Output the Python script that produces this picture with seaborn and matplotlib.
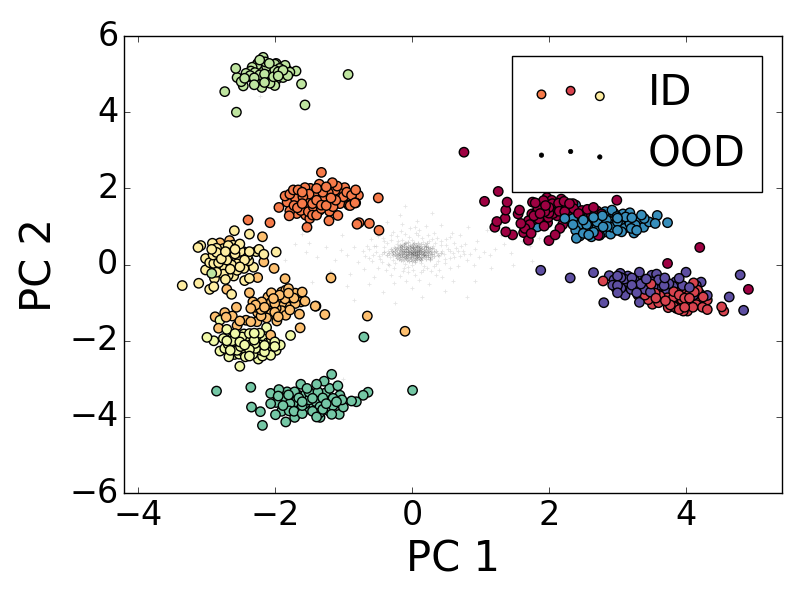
import numpy as np
import pandas as pd
import matplotlib
matplotlib.use("Agg")
import matplotlib.pyplot as plt
import seaborn as sns

# points, one list per class, (PC 1, PC 2)
crimson = [(0.76,2.95),(1.06,1.66),(1.26,1.92),(1.39,1.64),(1.37,1.43),(1.57,1.43),(1.55,1.33),(1.36,1.21),(1.24,1.13),
           (1.21,0.98),(1.37,0.86),(1.47,0.78),(1.59,1.08),(1.63,0.84),(1.7,0.64),(1.68,0.9),(1.75,1.33),(1.76,1.64),
           (1.8,1.62),(1.97,1.76),(1.89,1.61),(2.04,1.69),(2.22,1.66),(2.14,1.61),(2.04,1.47),(1.94,1.39),(1.87,1.34),
           (1.99,1.24),(1.77,1.17),(1.93,1.01),(2.16,0.95),(2.09,0.78),(2.0,0.63),(2.36,1.47),(2.43,1.34),(2.23,1.39),
           (2.56,1.45),(2.7,1.41),(2.77,1.33),(2.55,1.1),(2.99,1.69),(2.72,0.77),(2.45,0.95),(2.06,1.34),(1.84,1.47),
           (4.2,0.45),(3.73,0.03),(4.91,-0.65),
           (1.95,1.55),(2.1,1.5),(2.0,1.35),(1.9,1.25),(2.15,1.4),(1.85,1.2),(2.25,1.5),(2.3,1.6),(2.05,1.6),(1.82,1.38),
           (1.72,1.05),(1.65,0.95),(1.78,1.28),(2.12,1.28),(1.98,1.1),(2.28,1.28),(2.48,1.42),(2.62,1.3),(1.92,1.68),
           (2.18,1.72),(2.0,1.5),(2.35,1.6),(1.74,0.82),(2.2,1.05),(2.65,1.5),(1.7,1.15)]
red = [(2.79,-0.43),(3.49,-0.51),(3.65,-0.69),(3.56,-0.88),(3.51,-1.04),(3.73,-0.87),(3.77,-1.06),(3.74,-1.13),
       (3.93,-0.64),(3.94,-0.92),(4.04,-0.8),(4.11,-0.48),(4.17,-0.67),(4.13,-0.94),(4.31,-0.93),(4.24,-1.12),
       (4.31,-1.18),(4.52,-1.11),(4.55,-1.22),(4.01,-1.15),(3.94,-1.15),(4.06,-1.09),(3.86,-0.93),(3.82,-0.85),
       (3.86,-1.15),(3.4,-0.8),(3.3,-0.8),(3.99,-1.02),(4.2,-0.98),(3.82,-0.71),
       (3.62,-0.82),(3.7,-0.95),(3.8,-1.0),(3.9,-0.8),(3.98,-0.88),(4.08,-0.95),(4.15,-1.05),(3.92,-1.05),(4.02,-1.22),
       (3.9,-1.18),(4.1,-1.12),(4.0,-0.7),(3.72,-0.75),(3.55,-0.75),(4.25,-0.85),(4.02,-1.05),(3.96,-1.22),(4.12,-0.72),
       (3.82,-1.1),(3.6,-1.0),(3.98,-1.12),(4.05,-0.88),(3.45,-0.92),(3.88,-0.72)]
orange = [(-1.32,2.42),(-1.73,1.96),(-1.56,2.02),(-1.94,1.5),(-1.82,1.64),(-1.78,1.41),(-1.67,1.49),(-1.79,1.28),
          (-1.68,1.34),(-2.39,1.17),(-2.07,1.1),(-1.49,1.21),(-1.39,1.3),(-1.21,1.15),(-1.08,1.29),(-1.53,0.98),
          (-0.77,1.1),(-0.62,1.08),(-0.49,1.75),(-0.78,1.82),(-0.82,1.62),(-0.92,1.56),(-0.82,1.96),(-0.98,2.02),
          (-1.09,2.06),(-1.16,2.15),(-1.35,2.11),(-1.42,1.89),(-1.22,1.89),(-1.11,1.69),(-1.43,1.49),(-1.63,1.65),
          (-1.5,1.71),(-1.39,1.69),(-1.22,1.65),(-1.29,1.78),(-1.05,1.87),(-1.59,1.78),(-1.68,1.87),(-1.15,1.52),
          (-1.32,1.47),(-1.51,1.39),(-1.39,2.0),(-1.25,2.04),(-1.66,1.96),(-0.48,0.9),(-0.8,1.06),(-1.44,1.52),
          (-1.32,1.56),(-0.9,1.55),(-0.83,1.62),
          (-1.7,1.75),(-1.6,1.6),(-1.55,1.5),(-1.45,1.6),(-1.5,1.85),(-1.4,1.82),(-1.3,1.9),(-1.35,1.65),(-1.25,1.55),
          (-1.18,1.75),(-1.12,1.95),(-1.2,1.4),(-1.05,1.6),(-1.0,1.78),(-0.95,1.9),(-1.45,1.3),(-1.55,1.3),(-1.72,1.55),
          (-1.85,1.8),(-1.78,1.85),(-1.28,1.7),(-0.88,1.82),(-1.62,1.42),(-1.35,1.42),(-1.48,2.0),(-1.6,1.9)]
light_orange = [(-2.18,0.73),(-2.66,0.63),(-2.8,0.57),(-2.16,0.07),(-2.01,-0.1),(-2.25,-0.34),(-1.85,-0.37),(-2.7,-0.65),
                (-2.37,-0.74),(-2.56,-1.12),(-2.73,-1.26),(-2.87,-1.37),(-2.71,-1.38),(-2.82,-1.67),(-2.51,-1.48),
                (-2.42,-1.46),(-2.26,-1.5),(-2.06,-1.85),(-1.63,-1.66),(-1.64,-1.3),(-1.78,-1.19),(-1.97,-1.48),
                (-1.84,-0.67),(-1.8,-0.63),(-2.05,-0.74),(-1.93,-0.8),(-2.19,-0.98),(-2.32,-0.98),(-2.28,-1.06),
                (-2.0,-1.02),(-1.6,-0.72),(-1.62,-0.98),(-1.56,-0.96),(-1.41,-1.09),(-1.27,-1.31),(-1.78,-0.84),
                (-1.9,-1.02),(-2.12,-1.26),(-2.25,-1.26),(-2.05,-0.98),(-1.9,-1.21),(-2.15,-1.12),(-2.27,-1.12),
                (-1.95,-1.37),(-1.84,-1.33),(-2.02,-0.89),(-1.18,-0.35),(-0.65,-1.35),(-0.1,-1.75),(-1.4,-1.09),
                (-2.1,-0.85),(-1.98,-0.92),(-1.85,-0.9),(-1.72,-0.88),(-1.7,-1.02),(-1.82,-1.1),(-1.98,-1.15),(-2.1,-1.05),
                (-2.2,-1.35),(-2.05,-1.28),(-1.8,-0.75),(-2.12,-1.4),(-1.9,-0.72),(-1.7,-0.75),(-2.0,-1.25),(-2.2,-1.18),
                (-2.35,-1.15),(-2.35,-1.5),(-2.55,-1.6),(-2.62,-1.35)]
yellow = [(-2.59,0.89),(-2.37,0.8),(-3.12,0.45),(-3.08,0.5),(-2.91,0.56),(-2.61,0.51),(-2.51,0.54),(-2.74,0.29),
          (-2.58,0.28),(-2.46,0.34),(-2.37,0.34),(-2.27,0.34),(-2.23,0.4),(-2.16,0.27),(-1.98,0.33),(-3.01,0.16),
          (-2.9,0.25),(-2.89,0.03),(-2.73,0.03),(-2.55,0.1),(-2.63,-0.01),(-2.44,0.12),(-2.31,-0.07),(-3.01,-0.14),
          (-2.88,-0.36),(-2.8,-0.14),(-2.59,-0.21),(-2.72,-0.39),(-2.44,-0.42),(-2.37,-0.36),(-3.35,-0.55),
          (-3.11,-0.49),(-2.95,-0.65),(-2.89,-0.58),(-2.63,-0.78),(-2.8,0.21),(-2.66,0.38),(-2.61,0.16),(-2.85,0.43),
          (-2.73,-0.1),(-2.51,-0.06),(-2.56,0.43),(-2.68,-0.28),
          (-2.85,0.32),(-2.75,0.42),(-2.68,0.5),(-2.7,0.12),(-2.62,0.32),(-2.52,0.22),(-2.45,0.2),(-2.55,-0.15),(-2.45,-0.1),
          (-2.65,-0.12),(-2.82,0.05),(-2.95,0.05),(-2.85,-0.2),(-2.75,-0.25),(-2.58,0.4),(-2.5,0.35),(-2.38,0.1),(-2.4,0.22),
          (-2.66,0.08),(-2.78,0.15),(-2.72,0.34),(-2.6,-0.3),(-2.55,0.02),(-2.92,0.4)]
pale_yellow = [(-2.99,-1.91),(-2.89,-2.0),(-2.8,-2.27),(-2.67,-2.42),(-2.51,-2.67),(-2.24,-2.48),(-2.06,-2.38),
               (-1.92,-2.11),(-1.77,-1.86),(-2.0,-2.03),(-2.12,-1.65),(-2.45,-1.82),(-2.61,-1.91),(-2.75,-1.94),
               (-2.68,-2.09),(-2.6,-2.14),(-2.59,-2.36),(-2.46,-2.29),(-2.37,-2.23),(-2.37,-2.4),(-2.27,-1.88),
               (-2.17,-1.94),(-2.12,-2.2),(-2.15,-2.29),(-2.29,-2.07),(-2.51,-2.03),(-2.44,-2.11),(-2.73,-2.2),
               (-2.58,-1.81),(-2.37,-1.81),(-2.2,-2.11),(-2.05,-2.29),(-2.8,-1.46),(-2.7,-1.7),
               (-2.55,-2.0),(-2.4,-1.95),(-2.3,-1.98),(-2.5,-2.15),(-2.42,-2.25),(-2.28,-2.2),(-2.2,-2.25),(-2.1,-2.05),
               (-2.0,-2.15),(-2.32,-2.35),(-2.52,-2.35),(-2.65,-2.25),(-2.7,-2.0),(-2.35,-2.1),(-2.48,-1.9),(-2.18,-2.4),
               (-2.62,-2.0),(-2.05,-1.95),(-2.3,-1.8),(-1.98,-2.25),(-2.43,-2.42),(-2.55,-2.25),(-2.22,-1.8),(-2.15,-2.12)]
light_green = [(-2.57,5.15),(-2.73,4.54),(-2.56,4.0),(-1.56,4.19),(-1.61,4.74),(-0.93,4.99),(-1.69,5.08),(-1.82,5.11),
               (-1.85,5.23),(-1.98,5.28),(-2.0,5.26),(-2.17,5.44),(-2.22,5.37),(-2.14,5.32),(-2.26,5.24),(-2.33,5.18),
               (-2.29,5.04),(-2.36,4.96),(-2.44,4.89),(-2.55,4.91),(-2.49,4.8),(-2.46,4.69),(-2.28,4.8),(-2.19,4.65),
               (-2.0,4.7),(-1.88,4.91),(-1.81,4.96),(-2.02,4.93),(-2.11,5.09),(-1.95,5.06),(-1.93,5.15),(-2.1,4.86),
               (-2.07,4.76),(-2.22,4.98),(-2.39,4.93),(-2.17,5.15),(-2.05,5.2),(-1.9,5.02),(-2.24,5.11),(-1.98,4.85),
               (-2.92,-0.23),
               (-2.15,5.0),(-2.05,5.05),(-2.12,5.2),(-2.3,4.9),(-2.2,4.88),(-2.0,5.1),(-1.88,5.1),(-2.03,4.85),(-2.35,5.08),
               (-1.95,4.95),(-2.15,4.78),(-2.25,5.28),(-2.08,5.28),(-1.78,5.05),(-2.42,5.02),(-2.3,4.72)]
teal = [(-2.85,-3.32),(-2.35,-3.22),(0.01,-3.3),(-1.17,-2.88),(-1.28,-3.06),(-1.39,-3.14),(-1.08,-3.18),(-0.64,-3.35),
        (-0.71,-3.43),(-0.81,-3.6),(-0.88,-3.58),(-1.0,-3.74),(-1.05,-3.43),(-1.15,-3.51),(-1.06,-3.93),(-1.17,-3.93),
        (-1.34,-4.01),(-1.39,-4.0),(-2.34,-3.74),(-2.21,-3.86),(-2.18,-4.22),(-1.99,-3.94),(-1.84,-4.13),(-1.71,-4.01),
        (-1.6,-3.91),(-1.79,-3.84),(-2.06,-3.65),(-2.06,-3.38),(-1.94,-3.28),(-1.98,-3.62),(-1.84,-3.5),(-1.76,-3.5),
        (-1.65,-3.5),(-1.62,-3.14),(-1.53,-3.25),(-1.71,-3.34),(-1.82,-3.34),(-1.37,-3.34),(-1.26,-3.37),(-1.47,-3.71),
        (-1.34,-3.73),(-1.21,-3.84),(-1.56,-3.65),(-1.72,-3.85),(-1.45,-3.51),(-1.78,-3.65),(-0.7,-1.9),
        (-1.9,-3.5),(-1.88,-3.7),(-1.7,-3.6),(-1.6,-3.7),(-1.55,-3.4),(-1.5,-3.55),(-1.4,-3.6),(-1.3,-3.5),(-1.25,-3.65),
        (-1.15,-3.7),(-1.1,-3.6),(-1.45,-3.85),(-1.35,-3.9),(-1.6,-3.6),(-1.75,-3.75),(-1.9,-3.85),(-1.95,-3.45),
        (-1.68,-3.4),(-1.2,-3.25),(-1.02,-3.55),(-1.5,-3.35),(-1.3,-3.8),(-1.8,-3.42),(-1.55,-3.8)]
blue = [(3.73,1.1),(3.58,1.29),(3.46,1.12),(3.39,1.21),(3.55,1.08),(3.21,1.23),(3.18,1.36),(3.08,1.33),(2.92,1.43),
        (2.99,1.26),(2.82,1.39),(2.65,1.24),(2.79,0.99),(2.92,0.98),(3.06,0.86),(3.24,0.83),(3.26,1.04),(3.38,0.98),
        (2.62,0.73),(2.5,0.82),(2.39,0.9),(2.4,0.69),(2.23,1.21),(2.17,1.34),(2.39,1.56),(1.76,1.06),(1.83,0.99),
        (2.35,1.21),(2.55,0.9),(2.7,0.98),(3.08,1.04),(3.16,1.17),(2.84,1.17),(2.5,1.17),(2.6,1.39),(2.74,0.77),
        (2.96,0.9),(2.7,1.12),
        (2.55,1.05),(2.65,0.85),(2.8,0.85),(2.9,1.05),(3.0,1.12),(3.1,0.95),(3.2,0.95),(3.12,1.25),(2.95,1.35),(2.78,1.28),
        (2.6,0.95),(2.45,1.05),(2.52,1.3),(2.85,1.0),(2.68,1.3),(3.3,1.15),(3.0,0.9),(2.45,0.75),(2.58,0.78),(2.9,0.8),
        (3.18,1.08),(2.35,1.05),(2.75,1.05),(3.0,1.22),(3.35,1.3),(3.28,0.9)]
purple = [(1.88,-0.15),(2.31,-0.35),(2.65,-0.21),(2.8,-1.0),(2.88,-0.29),(2.93,-0.54),(3.0,-0.3),(3.05,-0.34),(3.0,-0.55),
          (3.0,-0.74),(3.11,-0.69),(3.11,-0.8),(3.21,-0.35),(3.21,-0.54),(3.32,-0.2),(3.34,-0.51),(3.28,-0.74),(3.32,-0.99),
          (3.5,-0.28),(3.57,-0.25),(3.69,-0.35),(3.43,-0.85),(3.4,-0.65),(3.81,-0.57),(3.9,-0.36),(4.0,-0.2),(4.22,-0.46),
          (4.31,-0.81),(4.63,-0.85),(4.79,-0.27),(4.84,-1.2),(4.11,-0.8),(4.2,-0.76),(3.64,-0.5),(3.52,-0.58),(3.04,-0.23),
          (3.38,-0.45),(3.72,-0.67),
          (2.95,-0.4),(3.08,-0.45),(3.15,-0.55),(3.05,-0.62),(3.2,-0.65),(3.3,-0.6),(3.42,-0.38),(3.5,-0.45),(3.6,-0.4),
          (3.58,-0.65),(3.48,-0.72),(3.25,-0.42),(3.15,-0.3),(3.38,-0.75),(3.75,-0.5),(3.85,-0.45),(3.95,-0.55),(4.05,-0.6),
          (4.15,-0.55),(3.68,-0.55),(3.1,-0.38),(2.98,-0.62),(3.45,-0.55),(3.6,-0.78)]

# the faint cloud in the middle, outer part
ood = [(-0.23,0.38),(0.17,0.19),(0.27,0.33),(-0.14,0.51),(0.1,0.11),(-0.29,0.29),(0.33,0.41),(0.19,0.53),(-0.26,0.46),
       (0.29,0.17),(0.01,0.12),(-0.09,0.58),(-0.32,0.21),(0.36,0.3),(-0.21,0.53),(0.31,0.48),(-0.13,0.09),(0.16,0.6),
       (-0.35,0.37),(0.4,0.22),(0.26,0.12),(-0.28,0.13),(0.34,0.56),(0.0,0.65),(0.14,0.05),(-0.1,0.02),
       (0.44,0.36),(-0.4,0.45),(-0.24,0.05),(0.38,0.09),(-0.04,0.72),(0.47,0.27),(-0.44,0.27),
       (-0.15,0.64),(0.25,0.62),(-0.37,0.58),(0.52,0.4),(0.18,-0.03),(-0.06,-0.06),(-0.47,0.14),(0.56,0.18),(0.09,0.77),
       (-0.22,0.75),(0.32,-0.04),(-0.33,-0.02),(0.43,0.52),(-0.52,0.34),(0.6,0.31),(0.23,0.78),(0.02,-0.13),(-0.13,-0.17),
       (0.49,0.05),(-0.55,0.5),(0.65,0.44),(-0.42,0.7),(0.37,0.7),(0.13,-0.2),(-0.28,0.86),(0.11,0.91),(0.55,-0.08),
       (-0.58,0.1),(0.7,0.22),(-0.03,0.96),(0.28,-0.18),(-0.38,-0.14),(0.74,0.36),(-0.62,0.42),(0.5,0.66),(-0.5,-0.08),
       (0.05,-0.28),(0.8,0.13),(-0.68,0.22),(0.62,0.58),(-0.18,-0.3),(0.85,0.28),(-0.72,0.36),(0.35,-0.27),(0.2,1.02),
       (-0.14,1.06),(0.92,0.41),(-0.3,-0.27),(0.68,-0.03),(-0.6,0.66),(0.98,0.2),(-0.78,0.08),(0.44,-0.32),(0.1,-0.4),
       (1.05,0.33),(-0.85,0.46),(0.78,0.54),(-0.46,0.9),(0.58,0.82),(0.08,1.15),(-0.08,-0.44),(1.14,0.25),(-0.95,0.25),
       (0.9,0.0),(-0.7,-0.12),(1.22,0.4),(-1.03,0.38),(0.25,-0.5),(-0.26,-0.48),(1.35,0.55),(-1.12,0.12),(0.7,0.78),
       (1.45,0.3),(-1.25,0.45),(0.95,0.62),(-0.55,-0.32),(0.42,1.05),(-0.36,1.12),(1.6,0.62),(-1.38,0.2),(1.15,-0.1),
       (-0.9,-0.25),(1.72,0.48),(-1.55,0.32),(0.6,-0.42),(-0.62,-0.5),(1.3,0.78),(-1.02,0.78),(0.82,1.0),(-0.18,1.3),
       (1.85,0.7),(-1.7,0.55),(0.3,1.35),(0.0,-0.62),(1.48,-0.02),(-1.2,-0.18),(-1.85,0.12),(0.48,-0.7),(-0.42,-0.72),
       (2.0,0.55),(-2.0,0.4),(1.1,0.92),(-0.75,1.02),(0.92,-0.42),(-0.95,-0.55),(0.15,-0.85),(-0.1,1.55),(-1.45,-0.45),
       (1.75,0.1),(-1.6,0.8),(-1.0,-3.0),(-2.22,4.42),(-1.5,0.58),(-0.85,-0.92),(0.8,-0.85),(-0.25,-1.0),(1.4,1.0),
       (-0.48,0.22),(0.55,0.35),(-0.3,0.65),(0.42,0.62),(-0.1,0.8),(0.15,0.7),(-0.35,0.02),(0.35,0.02),(0.0,-0.02),
       (-0.52,0.48),(0.62,0.2),(-0.2,0.62),(0.3,0.68),(-0.44,0.08),(0.48,0.14),(-0.12,-0.08),(0.22,-0.08),(-0.56,0.26),
       (0.68,0.36),(-0.4,0.62),(0.5,0.52),(0.06,0.84),(-0.26,-0.1),(0.4,-0.14),(-0.62,0.18),(0.76,0.28),(-0.3,0.78),
       (0.32,0.84),(-0.05,-0.2),(0.16,-0.14),(-0.66,0.5),(0.72,0.5),(-0.5,0.74),(0.56,0.72),(-0.16,0.88),(0.04,0.98)]

# the dense middle of the cloud
ood_core = [(-0.02,0.31),(0.05,0.36),(-0.11,0.42),(0.13,0.28),(0.08,0.47),(-0.17,0.25),(0.21,0.39),(-0.06,0.18),(0.02,0.55),
            (0.04,0.24),(-0.08,0.34),(0.15,0.44),(-0.19,0.16),(0.24,0.25),(-0.03,0.46),(0.07,0.3),(-0.12,0.27),(0.12,0.37),
            (-0.05,0.4),(0.09,0.22),(-0.16,0.36),(0.22,0.32),(-0.01,0.21),(0.06,0.42),(0.03,0.33),(-0.07,0.26),(0.11,0.5),
            (-0.18,0.44),(0.2,0.45),(0.08,0.15),(-0.21,0.31),(-0.14,0.19),(0.18,0.26),(0.01,0.38),(-0.04,0.28),(0.1,0.34),
            (-0.09,0.47),(0.16,0.34),(-0.23,0.22),(0.26,0.44),(0.03,0.17),(-0.13,0.35),(0.14,0.21),(-0.01,0.44),(0.06,0.52),
            (-0.17,0.39),(0.23,0.19),(-0.06,0.33),(0.11,0.27),(-0.27,0.33),(0.3,0.27),(0.0,0.27),(0.09,0.39),(-0.1,0.21),
            (0.19,0.33),(-0.2,0.47),(0.05,0.11),(-0.03,0.52),(0.13,0.42),(-0.15,0.3),(0.28,0.37),(-0.07,0.13),(0.02,0.44),
            (-0.25,0.27),(0.17,0.5),(-0.11,0.54),(0.07,0.2),(-0.02,0.36),(0.24,0.47),(-0.3,0.4),(0.33,0.22),(0.04,0.29),
            (-0.08,0.41),(0.12,0.16),(-0.16,0.12),(0.21,0.26),(0.0,0.49),(-0.13,0.23),(0.1,0.43),(-0.05,0.24),(0.15,0.31),
            (-0.19,0.34),(0.06,0.25),(0.27,0.21),(-0.1,0.36),(0.03,0.58),(-0.24,0.43),(0.18,0.41),(-0.01,0.15),(0.08,0.33),
            (-0.06,0.5),(0.35,0.35),(-0.33,0.31),(0.14,0.55),(-0.15,0.46),(0.2,0.15),(-0.04,0.09),(0.01,0.3),(0.11,0.2),
            (-0.12,0.33),(0.25,0.35),(-0.22,0.18),(0.05,0.46),(-0.08,0.22),(0.16,0.24),(-0.18,0.52),(0.3,0.43),(0.02,0.22),
            (-0.03,0.39),(0.09,0.56),(-0.27,0.24),(0.22,0.57),(-0.11,0.14),(0.13,0.12),(0.0,0.34),(-0.14,0.41),(0.07,0.37),
            (0.38,0.26),(-0.36,0.26),(0.17,0.37),(-0.05,0.6),(0.04,0.08),(-0.2,0.25),(0.12,0.46),(-0.09,0.29),(0.28,0.29),
            (0.01,0.47),(-0.16,0.49),(0.19,0.22),(-0.07,0.44),(0.06,0.18),(-0.24,0.35),(0.24,0.4),(-0.01,0.27),(0.1,0.29),
            (-0.12,0.48),(0.15,0.17),(-0.03,0.2),(0.32,0.33),(-0.29,0.36),(0.03,0.41),(0.21,0.49),(-0.17,0.21),(0.08,0.25),
            (-0.06,0.37),(0.14,0.35),(-0.1,0.56),(0.0,0.1),(0.42,0.31),(-0.4,0.33),(0.26,0.16),(-0.21,0.42),(0.05,0.32),
            (0.11,0.39),(-0.04,0.32),(0.17,0.29),(-0.14,0.28),(0.07,0.49),(-0.08,0.17),(0.02,0.26),(0.23,0.3),(-0.19,0.29)]

class_names = ["crimson", "red", "orange", "light_orange", "yellow", "pale_yellow", "light_green", "teal", "blue", "purple"]
class_points = [crimson, red, orange, light_orange, yellow, pale_yellow, light_green, teal, blue, purple]

frames = []
for name, pts in zip(class_names, class_points):
    part = pd.DataFrame(pts, columns=["pc1", "pc2"])
    part["cls"] = name
    frames.append(part)
df = pd.concat(frames, ignore_index=True)
# classes overlap in mixed order, not one on top of the other
df = df.iloc[np.argsort((df["pc1"].abs() * 100).round() % 7, kind="stable")]
ood_df = pd.DataFrame(ood, columns=["pc1", "pc2"])
core_df = pd.DataFrame(ood_core, columns=["pc1", "pc2"])

plt.style.use("classic")
plt.rcParams["font.family"] = ["DejaVu Sans"]
colors = [tuple(c) for c in plt.cm.Spectral(np.linspace(0, 1, 10))]

fig, ax = plt.subplots(figsize=(8, 6), dpi=100)
fig.patch.set_facecolor("white")
fig.subplots_adjust(left=0.155, right=0.9775, top=0.94, bottom=0.178)

sns.scatterplot(data=ood_df, x="pc1", y="pc2", marker="+", s=10, color="k", alpha=0.1, linewidth=0.6, legend=False, ax=ax)
sns.scatterplot(data=core_df, x="pc1", y="pc2", marker="+", s=12, color="k", alpha=0.17, linewidth=0.8, legend=False, ax=ax)
sns.scatterplot(data=df, x="pc1", y="pc2", hue="cls", hue_order=class_names, palette=colors, s=46,
                edgecolor="k", linewidth=1, alpha=1, legend=False, ax=ax)

id_handle = ax.scatter([], [], s=38, edgecolor="k", linewidth=1)
id_handle.set_facecolor([colors[2], colors[1], colors[4]])
ood_handle = ax.scatter([], [], c="k", s=10, edgecolor="k", linewidth=0.5)
ax.legend([id_handle, ood_handle], ["ID", "OOD"], loc="upper right", fontsize=30, scatterpoints=3,
          bbox_to_anchor=(0.97, 0.957), borderaxespad=0, labelspacing=0.45, handletextpad=0.85)

ax.set_xlim(-4.2, 5.4)
ax.set_ylim(-6, 6)
ax.set_xticks([-4, -2, 0, 2, 4])
ax.set_yticks([-6, -4, -2, 0, 2, 4, 6])
ax.set_xlabel("PC 1", fontsize=30)
ax.set_ylabel("PC 2", fontsize=30, labelpad=6)
ax.tick_params(labelsize=24)

fig.savefig("out.png", dpi=100, facecolor="white")
